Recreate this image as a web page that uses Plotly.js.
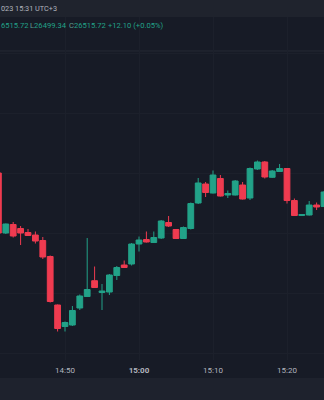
<!DOCTYPE html>
<html>
<head>
<meta charset="utf-8">
<script src="https://cdn.plot.ly/plotly-3.0.1.min.js"></script>
<style>
  html, body { margin: 0; padding: 0; background: #171b26; }
  #chart { width: 324px; height: 400px; }
</style>
</head>
<body>
<div id="chart"></div>
<script>
// 1-minute candles (time labels, HH:MM)
var times = ["14:41","14:42","14:43","14:44","14:45","14:46","14:47","14:48","14:49","14:50",
             "14:51","14:52","14:53","14:54","14:55","14:56","14:57","14:58","14:59","15:00",
             "15:01","15:02","15:03","15:04","15:05","15:06","15:07","15:08","15:09","15:10",
             "15:11","15:12","15:13","15:14","15:15","15:16","15:17","15:18","15:19","15:20",
             "15:21","15:22","15:23","15:24","15:25"];
var openP  = [26520.00,26500.00,26502.83,26501.50,26500.17,26499.33,26497.50,26492.17,26476.00,26468.83,
              26469.33,26475.00,26478.83,26484.10,26480.17,26480.33,26485.83,26489.33,26489.67,26496.33,
              26497.83,26496.83,26498.33,26503.50,26501.17,26498.17,26501.50,26510.00,26516.33,26513.33,
              26518.17,26512.67,26512.67,26516.00,26511.67,26521.33,26523.67,26518.57,26520.50,26521.50,
              26510.83,26505.83,26506.00,26509.33,26508.83];
var highP  = [26520.33,26503.17,26503.67,26502.33,26501.33,26500.50,26498.67,26492.50,26476.17,26470.50,
              26475.67,26479.50,26498.33,26488.83,26483.00,26486.33,26489.00,26490.83,26496.67,26498.83,
              26500.50,26500.50,26504.33,26505.67,26501.33,26502.17,26510.17,26518.33,26517.00,26520.83,
              26519.33,26514.17,26517.67,26517.00,26521.83,26524.17,26524.00,26521.00,26523.00,26521.67,
              26511.50,26506.33,26510.67,26510.17,26514.00];
var lowP   = [26499.67,26499.67,26498.50,26496.00,26499.00,26496.50,26491.33,26476.83,26467.17,26467.17,
              26469.00,26474.33,26478.67,26481.67,26474.33,26479.33,26484.33,26488.33,26489.17,26493.83,
              26496.83,26496.67,26498.00,26502.00,26498.00,26498.00,26501.17,26509.67,26512.00,26513.17,
              26512.17,26511.67,26512.50,26511.17,26511.00,26521.00,26518.17,26518.33,26520.33,26509.83,
              26505.67,26505.67,26505.83,26507.67,26508.67];
var closeP = [26500.00,26503.00,26499.00,26500.00,26499.17,26497.33,26492.00,26477.17,26468.17,26470.17,
              26474.17,26479.00,26481.17,26481.83,26480.67,26486.00,26488.50,26488.50,26496.33,26497.67,
              26497.00,26498.50,26504.00,26502.33,26498.17,26501.83,26509.83,26516.67,26513.50,26519.33,
              26512.33,26513.17,26517.33,26511.33,26521.50,26523.67,26518.67,26520.67,26521.50,26510.83,
              26505.83,26506.17,26509.33,26508.67,26513.67];
var tickLabels = ["14:50","15:00","15:10","15:20"];
var headerText = "023 15:31 UTC+3";
var ohlcLetters = ["", "L", "C", ""];
var ohlcValues  = ["6515.72", "26499.34", "26515.72", "+12.10 (+0.05%)"];

var day = "2023-09-05 ";
var xs = times.map(function(t){ return day + t; });
var tickVals = tickLabels.map(function(t){ return day + t; });
var tickText = tickLabels.map(function(t){ return t === "15:00" ? "<b>" + t + "</b>" : t; });

var UP = "#22a288", DOWN = "#ef3b50";

var trace = {
  type: "candlestick",
  x: xs, open: openP, high: highP, low: lowP, close: closeP,
  increasing: { line: { color: UP, width: 1 }, fillcolor: UP },
  decreasing: { line: { color: DOWN, width: 1 }, fillcolor: DOWN },
  whiskerwidth: 0,
  hoverinfo: "skip",
  showlegend: false
};

var green = "#22a288";
var ohlcX = [0, 29, 68, 107]; // left edges in px
var ohlcAnn = ohlcValues.map(function(v, i){
  var txt = (ohlcLetters[i] ? '<span style="color:#5f9e92">' + ohlcLetters[i] + '</span>' : '') + v;
  return { xref: "paper", yref: "paper", x: ohlcX[i] / 324, y: 0.9738, xanchor: "left", yanchor: "middle",
           text: txt, showarrow: false, borderpad: 0, font: { size: 7.6, color: green } };
});

var layout = {
  width: 324, height: 400,
  margin: { l: 0, r: 0, t: 17, b: 40, pad: 0 },
  paper_bgcolor: "#171b26",
  plot_bgcolor: "#171b26",
  font: { family: "Roboto, 'Noto Sans', sans-serif", size: 7, color: "#b2b5be" },
  showlegend: false,
  boxgap: 0.22, boxgroupgap: 0,
  xaxis: {
    type: "date",
    range: [day + "14:41:13", day + "15:25:00"],
    rangeslider: { visible: false },
    tickmode: "array", tickvals: tickVals, ticktext: tickText,
    showgrid: true, gridcolor: "#1c202b", gridwidth: 1,
    showline: false, zeroline: false, ticks: "",
    ticklabelstandoff: 4,
    tickfont: { size: 8, color: "#b2b5be" },
    fixedrange: true
  },
  yaxis: {
    range: [26457.67, 26572.00],
    tick0: 26500, dtick: 20,
    showgrid: true, gridcolor: "#1c202b", gridwidth: 1,
    showticklabels: false, zeroline: false, showline: false, ticks: "",
    fixedrange: true
  },
  shapes: [
    { type: "rect", xref: "paper", yref: "paper", x0: -0.1, x1: 1.1, y0: 1.0, y1: 1.2,
      fillcolor: "#1f232d", line: { width: 0 }, layer: "below" },
    { type: "rect", xref: "paper", yref: "paper", x0: -0.1, x1: 1.1, y0: -0.0525, y1: -0.3,
      fillcolor: "#1e222d", line: { width: 0 }, layer: "below" },
    { type: "line", xref: "paper", yref: "paper", x0: 0, x1: 1, y0: 0.9009, y1: 0.9009,
      line: { color: "#262a35", width: 1 }, layer: "below" }
  ],
  annotations: [
    { xref: "paper", yref: "paper", x: 0, y: 1.0248, xanchor: "left", yanchor: "middle",
      text: headerText, showarrow: false, borderpad: 0, font: { size: 7.3, color: "#b2b5be" } }
  ].concat(ohlcAnn)
};

Plotly.newPlot("chart", [trace], layout, { displayModeBar: false, staticPlot: true });
</script>
</body>
</html>
